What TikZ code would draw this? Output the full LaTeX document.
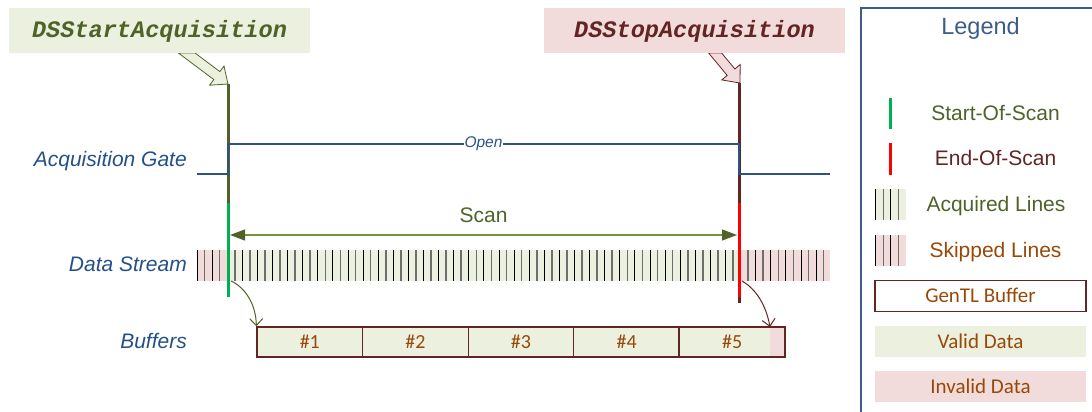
\documentclass[tikz,border=0pt]{standalone}
\usepackage{fontspec}
\setmainfont{Liberation Sans}
\setmonofont{Liberation Mono}
\newfontfamily\carlito{Carlito}
\usetikzlibrary{arrows.meta}
\definecolor{lgreen}{HTML}{EBF1DE}
\definecolor{lpink}{HTML}{F2DCDB}
\definecolor{olive}{HTML}{4F6228}
\definecolor{olivel}{HTML}{77933C}
\definecolor{dred}{HTML}{632523}
\definecolor{sgreen}{HTML}{00B050}
\definecolor{sred}{HTML}{FF0000}
\definecolor{gblue}{HTML}{2B5389}
\definecolor{tblue}{HTML}{24508A}
\definecolor{lblue}{HTML}{3B5D88}
\definecolor{obrown}{HTML}{984807}
\definecolor{lgrey}{HTML}{6E6E6E}
\newcommand\fsz[1]{\fontsize{#1}{#1}\selectfont}
\begin{document}
\begin{tikzpicture}[x=1pt,y=-1pt,
  titlebox/.style={minimum width=301pt, minimum height=45pt, inner sep=0pt,
    text height=14pt, text depth=0pt, font=\fsz{23.6}\ttfamily\bfseries\itshape},
  rowlabel/.style={anchor=base east, text=tblue, font=\fsz{21}\itshape, inner sep=0pt},
  legtext/.style={anchor=base, font=\fsz{21}, inner sep=0pt},
  legbox/.style={minimum width=211pt, minimum height=31pt, inner sep=0pt,
    text height=13.5pt, text depth=0pt, text=obrown, font=\fsz{21}\carlito},
  buf/.style={draw=dred, line width=1.3pt, fill=lgreen, minimum width=105.6pt,
    minimum height=30pt, inner sep=0pt, text height=13pt, text depth=0pt,
    text=obrown, font=\fsz{20}\carlito},
  blkline/.style={black, line width=1pt},
  gryline/.style={lgrey, line width=1.6pt},
  marker/.style={line width=3pt},
  bufarrow/.style={line width=1pt, -{Straight Barb[length=7pt,width=13pt]}},
]
\useasboundingbox (0,0) rectangle (1092,412);

% block arrows (drawn before the title boxes)
\filldraw[fill=lgreen, draw=olive, line width=0.8pt]
  (178.4,53) -- (213.8,79.6) -- (209.6,85.2) -- (228,84) -- (224,66) -- (219.8,71.6) -- (195,53) -- cycle;
\filldraw[fill=lpink, draw=dred, line width=0.8pt]
  (708.6,53) -- (727.2,75.4) -- (721.8,79.9) -- (740,83) -- (740.2,64.5) -- (734.9,69) -- (721.6,53) -- cycle;

% title boxes
\node[titlebox, fill=lgreen, text=olive] (sa) at (159.5,30.5) {DSStartAcquisition};
\node[titlebox, fill=lpink, text=dred] (so) at (694.5,30.5) {DSStopAcquisition};

% row labels
\node[rowlabel] (lgate) at (187,166.5) {Acquisition Gate};
\node[rowlabel] (lstream) at (187,271.5) {Data Stream};
\node[rowlabel] (lbuf) at (187,348) {Buffers};

% data stream
\fill[lpink] (197,250) rectangle (830,281);
\fill[lgreen] (228,250) rectangle (739,281);
\foreach \k in {0,...,83}{
  \pgfmathsetmacro\xx{197+7.55*\k}
  \ifodd\k\relax
    \draw[gryline] (\xx,250) -- (\xx,281);
  \else
    \draw[blkline] (\xx,250) -- (\xx,281);
  \fi
}

% start / stop markers
\draw[marker, olive] (228,84) -- (228,203);
\draw[marker, sgreen] (228,203) -- (228,297);
\draw[marker, dred] (739,83) -- (739,203);
\draw[marker, sred] (739,203) -- (739,297);
\draw[marker, dred] (739,297) -- (739,303);

% acquisition gate
\coordinate (g0) at (197,174);
\coordinate (g1) at (228,174);
\coordinate (g2) at (228,144);
\coordinate (g3) at (739,144);
\coordinate (g4) at (739,174);
\coordinate (g5) at (830,174);
\draw[gblue, line width=1.8pt] (g0) -- (g1) -- (g2) -- node[fill=white, inner xsep=1pt, inner ysep=1pt, text=gblue, font=\fsz{15.5}\itshape] (open) {Open} (g3) -- (g4) -- (g5);

% scan arrow
\coordinate (sc0) at (230,235);
\coordinate (sc1) at (737,235);
\draw[olivel, line width=1.3pt, {Triangle[length=15pt,width=11pt,fill=olive,color=olive]}-{Triangle[length=15pt,width=11pt,fill=olive,color=olive]}] (sc0) -- (sc1);
\node[legtext, text=olive] (scan) at (483.5,222.5) {Scan};

% buffers
\node[buf] (b1) at (309.8,342) {\#1};
\node[buf] (b2) at (415.4,342) {\#2};
\node[buf] (b3) at (521.0,342) {\#3};
\node[buf] (b4) at (626.6,342) {\#4};
\node[buf] (b5) at (732.2,342) {\#5};
\fill[lpink] (770,327.6) rectangle (784.4,356.4);
\draw[dred, line width=1.3pt] (b5.south west) rectangle (b5.north east);
\coordinate (inv) at (770,327);

% buffer arrows
\coordinate (s1) at (231,281);
\coordinate (s2) at (742,281);
\draw[bufarrow, olive] (s1) .. controls (246,288) and (256,305) .. (b1.north west);
\draw[bufarrow, dred] (s2) .. controls (756,289) and (766,305) .. (inv);

% legend
\draw[lblue, line width=1.6pt] (861,416) -- (861,8) -- (1096,8);
\node[anchor=base, text=lblue, font=\fsz{23.5}, inner sep=0pt] (legend) at (980.5,35) {Legend};

\draw[marker, sgreen] (890,98) -- (890,129);
\node[legtext, text=olive] (lsos) at (995.5,120) {Start-Of-Scan};
\draw[marker, sred] (890,143) -- (890,175);
\node[legtext, text=dred] (leos) at (995.5,165.5) {End-Of-Scan};

\fill[lgreen] (875,189) rectangle (906,220);
\draw[blkline] (875.7,189) -- (875.7,220);
\draw[gryline] (883.3,189) -- (883.3,220);
\draw[blkline] (890.7,189) -- (890.7,220);
\draw[gryline] (898.3,189) -- (898.3,220);
\node[legtext, text=olive] (lacq) at (996,211.5) {Acquired Lines};

\fill[lpink] (875,235) rectangle (906,266);
\draw[blkline] (875.7,235) -- (875.7,266);
\draw[gryline] (883.3,235) -- (883.3,266);
\draw[blkline] (890.7,235) -- (890.7,266);
\draw[gryline] (898.3,235) -- (898.3,266);
\node[legtext, text=obrown] (lskip) at (995.5,257.3) {Skipped Lines};

\node[legbox, draw=dred, line width=1.3pt] (lgentl) at (980.5,296) {GenTL Buffer};
\node[legbox, fill=lgreen] (lvalid) at (980.5,341.5) {Valid Data};
\node[legbox, fill=lpink] (linvalid) at (980.5,386.5) {Invalid Data};
\end{tikzpicture}
\end{document}
